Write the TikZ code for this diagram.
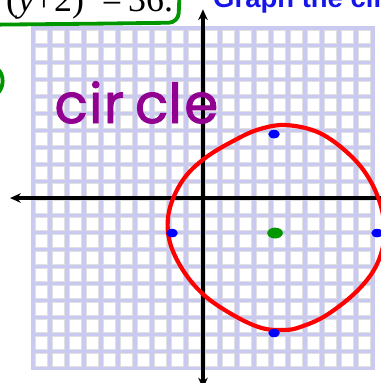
\documentclass[tikz,border=0pt]{standalone}
\usepackage{fontspec}
\newfontfamily\serifeq{Liberation Serif}
\newfontfamily\sanstitre{Liberation Sans}
\newfontfamily\mainlevee[FakeBold=1.5]{Poppins}
\usepackage{xcolor}
\usepackage{tikz}
\usetikzlibrary{arrows.meta, shapes.geometric}
\definecolor{grille}{RGB}{202,202,240}
\definecolor{vertfeutre}{RGB}{0,150,0}
\definecolor{mauve}{RGB}{145,0,145}
\definecolor{bleutitre}{RGB}{20,20,235}

\begin{document}
\begin{tikzpicture}[x=0.5cm, y=0.5cm, >={Stealth[length=9pt, width=8pt]},
    bpt/.style={ellipse, fill=blue, inner sep=0pt, minimum width=0.34cm, minimum height=0.25cm},
    gpt/.style={ellipse, fill=vertfeutre, inner sep=0pt, minimum width=0.46cm, minimum height=0.32cm}]
  \useasboundingbox (-11.94,-10.88) rectangle (10.47,11.65);
  \clip (-11.94,-10.88) rectangle (10.47,11.65);

  % Quadrillage
  \fill[grille] (-10.12,-10.12) rectangle (10.12,10.12);
  \foreach \i in {-10,...,9} {
    \foreach \j in {-10,...,9} {
      \filldraw[fill=white, draw=black!12, line width=0.5pt]
        (\i+0.13, \j+0.13) rectangle (\i+0.87, \j+0.87);
    }
  }

  % Axes
  \draw[<->, line width=2.8pt] (-11.35, 0) -- (11.1, 0);
  \draw[<->, line width=2.8pt] (0, -11.2) -- (0, 11.1);

  % Cercle trace a main levee
  \draw[red, line width=3.5pt] plot[smooth cycle, tension=0.6] coordinates {
      (4.94, 4.29) (6.88, 3.82) (8.65, 2.53) (9.82, 1.06) (10.53, -0.71)
      (10.65, -2.47) (10.12, -4.12) (8.94, -5.59) (7.18, -6.94) (5.71, -7.59)
      (4.82, -7.76) (3.47, -7.65) (1.88, -6.94) (0.12, -5.76) (-1.18, -4.24)
      (-1.98, -2.47) (-1.98, -0.71) (-1.18, 1.06) (0.12, 2.35) (1.88, 3.41)
      (3.35, 4.06)
  };

  % Centre et points du cercle
  \node[gpt] (ctr) at (4.24, -2.06) {};
  \node[bpt] (pN) at (4.18, 3.76) {};
  \node[bpt] (pS) at (4.18, -7.94) {};
  \node[bpt] (pW) at (-1.82, -2.06) {};
  \node[bpt] (pE) at (10.24, -2.06) {};

  % Mot ecrit a la main
  \node[anchor=base west, inner sep=0pt, text=mauve, font=\mainlevee\fontsize{46}{46}\selectfont]
      (mot) at (-8.75, 4.41) {c\kern1pt i\kern1pt r\kern9pt c\kern0pt l\kern2pt e};

  % Equation encadree (coupee en haut)
  \node[anchor=base east, inner sep=0pt, font=\serifeq\fontsize{30}{30}\selectfont]
      (eq) at (-1.75, 11.0)
      {+(\textit{y}+2)\raisebox{0.6em}{\fontsize{20}{20}\selectfont 2}\,=\,36.};
  \draw[vertfeutre, line width=3.2pt, rounded corners=8pt]
      (-12.2, 10.2) -- (-6, 10.26) -- (-1.45, 10.32) -- (-1.38, 12);
  \draw[vertfeutre, line width=3.2pt]
      (-12.1, 7.6) .. controls (-11.68, 7.3) and (-11.68, 6.5) .. (-12.1, 6.15);

  % Consigne
  \node[anchor=base west, inner sep=0pt, text=bleutitre, font=\sanstitre\bfseries\fontsize{23}{23}\selectfont]
      (titre) at (0.59, 11.18) {Graph the cir};
\end{tikzpicture}
\end{document}
